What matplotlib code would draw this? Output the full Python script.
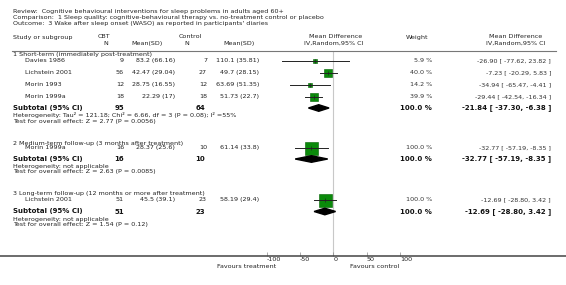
import matplotlib
matplotlib.use('Agg')
import matplotlib.pyplot as plt
from matplotlib.patches import Polygon
from matplotlib.lines import Line2D
import numpy as np

plt.rcParams['font.family'] = ['DejaVu Sans']
plt.rcParams['axes.unicode_minus'] = False

# ---------------- data ----------------
title_lines = [
    "Review:  Cognitive behavioural interventions for sleep problems in adults aged 60+",
    "Comparison:  1 Sleep quality: cognitive-behavioural therapy vs. no-treatment control or placebo",
    "Outcome:  3 Wake after sleep onset (WASO) as reported in participants' diaries",
]
group_titles = [
    "1 Short-term (immediately post-treatment)",
    "2 Medium-term follow-up (3 months after treatment)",
    "3 Long-term follow-up (12 months or more after treatment)",
]
studies = [["Davies 1986", "Lichstein 2001", "Morin 1993", "Morin 1999a"],
           ["Morin 1999a"], ["Lichstein 2001"]]
cbt_n = [[9, 56, 12, 18], [16], [51]]
cbt_msd = [["83.2 (66.16)", "42.47 (29.04)", "28.75 (16.55)", "22.29 (17)"],
           ["28.37 (25.6)"], ["45.5 (39.1)"]]
ctl_n = [[7, 27, 12, 18], [10], [23]]
ctl_msd = [["110.1 (35.81)", "49.7 (28.15)", "63.69 (51.35)", "51.73 (22.7)"],
           ["61.14 (33.8)"], ["58.19 (29.4)"]]
weights = [[5.9, 40.0, 14.2, 39.9], [100.0], [100.0]]
md = [[-26.90, -7.23, -34.94, -29.44], [-32.77], [-12.69]]
ci_lo = [[-77.62, -20.29, -65.47, -42.54], [-57.19], [-28.80]]
ci_hi = [[23.82, 5.83, -4.41, -16.34], [-8.35], [3.42]]
sub_cbt = [95, 16, 51]
sub_ctl = [64, 10, 23]
sub_md = [-21.84, -32.77, -12.69]
sub_lo = [-37.30, -57.19, -28.80]
sub_hi = [-6.38, -8.35, 3.42]
heterogeneity = ["Heterogeneity: Tau\u00b2 = 121.18; Chi\u00b2 = 6.66, df = 3 (P = 0.08); I\u00b2 =55%",
                 "Heterogeneity: not applicable",
                 "Heterogeneity: not applicable"]
z_vals = ["2.77", "2.63", "1.54"]
p_vals = ["0.0056", "0.0085", "0.12"]
xticks = [-100, -50, 0, 50, 100]

# ---------------- layout (pixels) ----------------
W, H = 566, 285
fig = plt.figure(figsize=(W / 100, H / 100), dpi=100)

def fx(x):
    return x / W

def fy(y):
    return 1 - y / H

FS = 4.6
FSB = 5.0
TC = '#222222'

def txt(x, y, s, ha='left', size=FS, weight='normal', color=TC):
    fig.text(fx(x), fy(y), s, ha=ha, va='center', fontsize=size,
             fontweight=weight, color=color)

# title
for i, line in enumerate(title_lines):
    txt(13, 11 + i * 6.5, line)

# headers
txt(13, 38, "Study or subgroup")
txt(103.5, 37, "CBT", ha='center')
txt(106, 43.5, "N", ha='center')
txt(147, 43.5, "Mean(SD)", ha='center')
txt(190, 37, "Control", ha='center')
txt(187, 43.5, "N", ha='center')
txt(238.5, 43.5, "Mean(SD)", ha='center')
txt(336, 37, "Mean Difference", ha='center')
txt(334, 43.5, "IV,Random,95% CI", ha='center')
txt(417, 37, "Weight", ha='center')
txt(516, 37, "Mean Difference", ha='center')
txt(516, 43.5, "IV,Random,95% CI", ha='center')

fig.add_artist(Line2D([fx(12), fx(556)], [fy(50.5), fy(50.5)],
                      color='#777777', lw=0.8, transform=fig.transFigure))

# forest axes: x mapped so 0 -> 333.3px and 100 units -> 66.7px
x0, scale = 333.3, 0.6667
ax_top, ax_bot = 50.5, 255.5
ax = fig.add_axes([0, fy(ax_bot), 1, (ax_bot - ax_top) / H])
ax.set_xlim((0 - x0) / scale, (W - x0) / scale)
ax.set_ylim(ax_bot, ax_top)
ax.patch.set_alpha(0)
for s in ['top', 'left', 'right']:
    ax.spines[s].set_visible(False)
ax.spines['bottom'].set_color('#444444')
ax.spines['bottom'].set_linewidth(1.1)
ax.set_yticks([])
ax.set_xticks(xticks)
ax.set_xticklabels([str(t) for t in xticks])
ax.tick_params(axis='x', direction='in', length=3, width=0.5, color='#888888',
               labelsize=FS, labelcolor=TC, pad=1.2)
for lab in ax.get_xticklabels():
    lab.set_ha('left')
ax.axvline(0, color='#c8c8c8', lw=0.8, zorder=0)

group_y = [54.5, 143, 193]
study_y = [[60.5, 72.5, 84.5, 96.5], [148], [199.5]]
sub_y = [108, 159, 211.5]

PT = 0.72  # points per pixel at 100 dpi
for g in range(3):
    txt(13, group_y[g], group_titles[g])
    for i, name in enumerate(studies[g]):
        y = study_y[g][i]
        txt(25, y, name)
        txt(124, y, str(cbt_n[g][i]), ha='right')
        txt(175, y, cbt_msd[g][i], ha='right')
        txt(207, y, str(ctl_n[g][i]), ha='right')
        txt(259, y, ctl_msd[g][i], ha='right')
        txt(432, y, f"{weights[g][i]:.1f} %", ha='right', color='#333333')
        txt(551, y, f"{md[g][i]:.2f} [ {ci_lo[g][i]:.2f}, {ci_hi[g][i]:.2f} ]",
            ha='right', color='#333333')
        side = max(3.0, 13.0 * np.sqrt(weights[g][i] / 100.0))
        ax.plot([md[g][i]], [y], marker='s', ms=side * PT, color='#0a8a0a',
                mec='#006000', mew=0.4, zorder=2)
        ax.plot([ci_lo[g][i], ci_hi[g][i]], [y, y], color='#222222', lw=0.7, zorder=3)
        ax.plot([md[g][i]], [y], marker='|', ms=2.5, mew=0.5, color='#222222', zorder=4)
    ys = sub_y[g]
    txt(13, ys, "Subtotal (95% CI)", size=FSB, weight='bold', color='#111111')
    txt(124, ys, str(sub_cbt[g]), ha='right', size=FSB, weight='bold', color='#111111')
    txt(205, ys, str(sub_ctl[g]), ha='right', size=FSB, weight='bold', color='#111111')
    txt(432, ys, "100.0 %", ha='right', size=FSB, weight='bold', color='#111111')
    txt(551, ys, f"{sub_md[g]:.2f} [ {sub_lo[g]:.2f}, {sub_hi[g]:.2f} ]",
        ha='right', size=FSB, weight='bold', color='#111111')
    dh = 3.3
    ax.add_patch(Polygon([(sub_lo[g], ys), (sub_md[g], ys - dh),
                          (sub_hi[g], ys), (sub_md[g], ys + dh)],
                         closed=True, color='black', zorder=3))
    txt(13, ys + 7.5, heterogeneity[g])
    txt(13, ys + 13, f"Test for overall effect: Z = {z_vals[g]} (P = {p_vals[g]})")

txt(276, 267, "Favours treatment", ha='right')
txt(350, 267, "Favours control", ha='left')

fig.savefig('out.png', dpi=100)
